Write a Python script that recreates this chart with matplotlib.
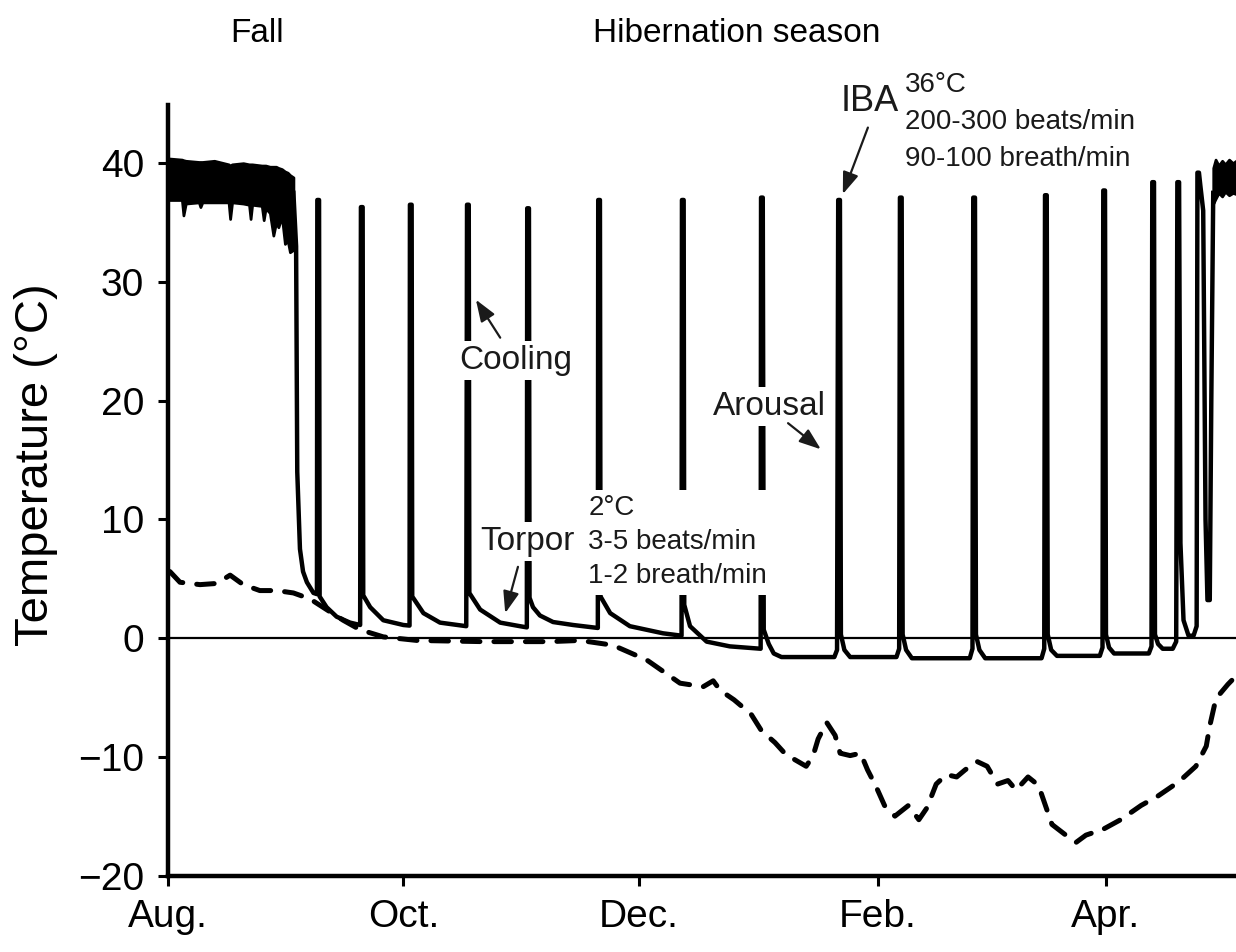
import matplotlib
matplotlib.use("Agg")
from matplotlib import pyplot as plt

plt.rcParams['font.family'] = ['Liberation Sans', 'DejaVu Sans']

# x axis: days since Aug. 1
month_days = [0, 61, 122, 184, 243]
month_labels = ["Aug.", "Oct.", "Dec.", "Feb.", "Apr."]

# euthermic body temperature before hibernation (upper / lower edge of the noisy trace)
fall_day = [0, 3.6, 4.0, 4.6, 8.0, 8.4, 8.9, 12.0, 15.7, 16.1, 16.6, 19.5, 21.0, 21.4,
            21.8, 24.3, 24.8, 25.3, 26.4, 27.3, 28.0, 28.6, 29.5, 30.3, 31.0, 31.6, 32.5]
fall_hi = [40.4, 40.3, 40.25, 40.2, 40.1, 40.1, 40.1, 40.2, 39.9, 39.8, 39.9, 40.0, 39.9, 39.9,
           39.9, 39.8, 39.8, 39.8, 39.7, 39.7, 39.7, 39.6, 39.5, 39.3, 39.2, 39.0, 38.8]
fall_lo = [36.9, 36.9, 35.6, 36.6, 36.7, 36.3, 36.7, 36.7, 36.7, 35.3, 36.7, 36.6, 36.5, 35.3,
           36.5, 36.4, 35.2, 36.2, 35.8, 33.9, 35.0, 34.6, 35.5, 33.2, 33.5, 32.5, 32.7]

# euthermic again after the last arousal
spring_day = [270.9, 271.5, 272.3, 273.2, 274.0, 275.0, 276.0, 276.8]
spring_hi = [39.6, 40.3, 39.8, 40.2, 39.9, 40.3, 40.0, 40.2]
spring_lo = [36.6, 37.0, 37.5, 37.2, 37.6, 37.3, 37.5, 37.4]

# body temperature during the hibernation season (torpor bouts + arousals)
tb_day = [
    32.5, 33.2, 33.5, 34.2, 35.0, 36.0, 37.7, 38.6,
    38.7, 39.15, 39.3, 41.1, 43.7, 47.2, 49.8,
    50.0, 50.45, 50.6, 52.4, 55.8, 61.0, 62.6,
    62.7, 63.15, 63.3, 66.2, 70.5, 77.3,
    77.5, 77.95, 78.1, 80.9, 86.1, 91.2, 93.0,
    93.1, 93.55, 93.7, 94.6, 96.4, 99.8, 105.0, 111.4,
    111.5, 111.95, 112.1, 114.6, 119.7, 128.3, 133.1,
    133.2, 133.65, 133.8, 135.3, 139.6, 145.6, 153.6,
    153.7, 154.15, 154.4, 155.7, 157.0, 159.0, 172.7, 173.4,
    173.7, 174.15, 174.4, 175.3, 176.8, 188.8, 189.5,
    189.7, 190.15, 190.4, 191.3, 192.8, 207.8, 208.5,
    208.7, 209.15, 209.4, 210.3, 211.8, 226.4, 227.1,
    227.3, 227.75, 228.0, 228.9, 230.4, 241.5, 242.2,
    242.4, 242.85, 243.1, 243.9, 245.2, 254.2, 254.9,
    255.1, 255.55, 255.8, 256.6, 257.8, 260.4, 261.3,
    261.6, 262.05, 262.4, 263.2, 264.5, 265.8, 266.6,
    266.8, 267.2, 267.6, 268.3, 268.9, 269.4, 270.0, 270.4, 270.9,
]
tb_temp = [
    37.5, 33.0, 14.0, 7.5, 5.6, 4.7, 3.8, 3.7,
    36.9, 36.9, 3.5, 2.6, 1.8, 1.3, 1.1,
    36.3, 36.3, 3.6, 2.6, 1.5, 1.1, 1.05,
    36.5, 36.5, 3.5, 2.1, 1.3, 1.0,
    36.5, 36.5, 3.8, 2.4, 1.3, 1.0, 0.9,
    36.2, 36.2, 3.4, 2.6, 1.9, 1.35, 1.1, 0.85,
    36.9, 36.9, 3.5, 2.1, 1.0, 0.4, 0.2,
    36.9, 36.9, 2.8, 1.0, -0.3, -0.7, -0.9,
    37.1, 37.1, 0.7, -0.5, -1.3, -1.6, -1.6, -1.0,
    36.9, 36.9, 0.3, -1.0, -1.6, -1.6, -0.9,
    37.1, 37.1, 0.3, -1.0, -1.7, -1.7, -0.9,
    37.1, 37.1, 0.3, -1.0, -1.7, -1.7, -0.9,
    37.3, 37.3, 0.3, -1.0, -1.5, -1.5, -0.8,
    37.7, 37.7, 0.3, -0.8, -1.3, -1.3, -0.7,
    38.4, 38.4, 0.3, -0.5, -0.9, -0.9, -0.3,
    38.4, 38.4, 8.0, 1.5, 0.2, 0.2, 1.0,
    39.2, 39.2, 38.0, 36.0, 10.0, 3.2, 3.2, 20.0, 37.5,
]

# ambient (burrow) temperature, dashed
amb_day = [0.5, 3.1, 8.3, 12.6, 16.1, 19.5, 23.8, 28.2, 32.5, 36.8, 41.1, 45.4, 49.8, 55.8,
           64.5, 81.6, 99.0, 106.8, 115.3, 124.1, 132.7, 138.7, 141.3, 143.1, 146.7, 151.1,
           153.8, 157.3, 160.1, 165.4, 167.2, 168.5, 170.7, 172.9, 174.2, 176.8, 179.5, 181.3,
           183.5, 185.7, 188.4, 191.9, 194.6, 196.7, 199.1, 201.7, 204.4, 206.6, 209.7, 212.3,
           215.0, 217.7, 219.8, 222.9, 225.6, 227.3, 229.1, 232.7, 235.4, 237.9, 242.4, 246.9,
           252.2, 256.6, 262.0, 266.4, 269.1, 270.0, 271.6, 274.7, 276.8]
amb_temp = [5.6, 4.7, 4.5, 4.6, 5.3, 4.5, 4.0, 4.0, 3.8, 3.3, 2.4, 1.5, 0.7, 0.1,
            -0.2, -0.3, -0.3, -0.2, -0.6, -1.85, -3.8, -4.1, -3.6, -4.4, -5.2, -6.4,
            -7.8, -8.8, -9.8, -10.8, -9.9, -8.5, -7.1, -8.2, -9.7, -9.9, -9.7, -11.1,
            -12.5, -14.1, -15.0, -14.1, -15.3, -14.3, -12.3, -11.5, -11.7, -11.1, -10.4, -10.8,
            -12.3, -12.0, -12.8, -11.7, -12.4, -14.0, -15.7, -16.6, -17.2, -16.6, -16.1, -15.3,
            -14.1, -13.3, -12.1, -10.8, -9.1, -7.4, -5.1, -3.9, -3.2]

W, H = 1236, 952
fig = plt.figure(figsize=(W / 100, H / 100), dpi=100)
ax = fig.add_axes([168 / W, (H - 875.5) / H, 1 - 168 / W, (875.5 - 105) / H])

ax.axhline(0, color="black", lw=1.6, zorder=1)
ax.fill_between(fall_day, fall_lo, fall_hi, color="black", lw=2, zorder=2)
ax.fill_between(spring_day, spring_lo, spring_hi, color="black", lw=2, zorder=2)
ax.plot(tb_day, tb_temp, color="black", lw=3.2, solid_joinstyle="round", zorder=3)
ax.plot(amb_day, amb_temp, color="black", lw=3.6, linestyle=(0, (3.5, 2.8)),
        dash_capstyle="round", zorder=3)

ax.set_xlim(0, 276.8)
ax.set_ylim(-20, 44.9)
ax.set_xticks(month_days)
ax.set_xticklabels(month_labels)
ax.set_yticks([-20, -10, 0, 10, 20, 30, 40])
ax.tick_params(labelsize=28, width=2.2, length=7.2, pad=10, direction="out")
for s in ["top", "right"]:
    ax.spines[s].set_visible(False)
for s in ["left", "bottom"]:
    ax.spines[s].set_linewidth(3.2)
    ax.spines[s].set_zorder(8)

# labels with white boxes hide the trace behind them
box = dict(facecolor="white", edgecolor="none", pad=3)
tc = "#1a1a1a"
ax.text(90.2, 22.7, "Cooling", fontsize=24, color=tc, ha="center", va="baseline",
        bbox=box, zorder=5)
ax.text(80.9, 7.4, "Torpor", fontsize=24, color=tc, ha="left", va="baseline",
        bbox=box, zorder=5)
# multi-line blocks: baseline refers to the last line
ax.text(108.9, 4.6, "2°C\n3-5 beats/min\n1-2 breath/min", fontsize=20, color=tc,
        ha="left", va="baseline", linespacing=1.4,
        bbox=dict(facecolor="white", edgecolor="none", pad=4), zorder=5)
ax.text(156.0, 18.8, "Arousal", fontsize=24, color=tc, ha="center", va="baseline",
        bbox=box, zorder=5)
ax.text(174.2, 44.4, "IBA", fontsize=26, color=tc, ha="left", va="baseline",
        clip_on=False, zorder=5)
ax.text(191.0, 39.8, "36°C\n200-300 beats/min\n90-100 breath/min", fontsize=20, color=tc,
        ha="left", va="baseline", linespacing=1.54, clip_on=False, zorder=5)

arrow = dict(arrowstyle="-|>,head_length=0.6,head_width=0.22", color=tc, lw=1.6,
             mutation_scale=22, shrinkA=0, shrinkB=0)
ax.annotate("", xy=(79.8, 28.5), xytext=(86.1, 25.3), arrowprops=arrow, zorder=6)
ax.annotate("", xy=(87.4, 2.1), xytext=(90.7, 6.0), arrowprops=arrow, zorder=6)
ax.annotate("", xy=(169.2, 15.9), xytext=(160.7, 18.1), arrowprops=arrow, zorder=6)
ax.annotate("", xy=(174.9, 37.4), xytext=(181.4, 43.0), arrowprops=arrow, zorder=6,
            annotation_clip=False)

fig.text(257 / W, 1 - 42 / H, "Fall", fontsize=24, ha="center", va="baseline")
fig.text(737 / W, 1 - 42 / H, "Hibernation season", fontsize=24, ha="center", va="baseline")
fig.text(36 / W, 1 - 465 / H, "Temperature (°C)", fontsize=34, rotation=90,
         ha="center", va="center")

fig.savefig("out.png", dpi=100)
